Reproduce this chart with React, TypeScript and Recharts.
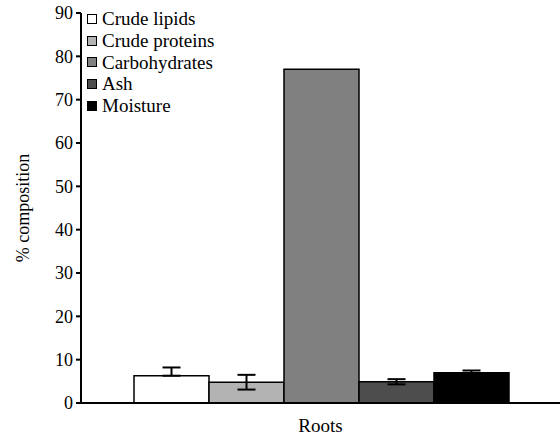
import { BarChart, Bar, XAxis, YAxis, ErrorBar } from 'recharts';

const categories = ['Roots'];
const seriesNames = ['Crude lipids', 'Crude proteins', 'Carbohydrates', 'Ash', 'Moisture'];
const seriesColors = ['#ffffff', '#b3b3b3', '#808080', '#4d4d4d', '#000000'];
const values = [6.3, 4.8, 77, 4.9, 7.0];
// [down, up] error lengths
const errorsLow = [0, 1.7, 0, 0.6, 0.5];
const errorsHigh = [1.9, 1.7, 0, 0.6, 0.5];
const yTicks = [0, 10, 20, 30, 40, 50, 60, 70, 80, 90];

const data = categories.map((c) => {
  const row: any = { category: c };
  values.forEach((v, i) => {
    row['s' + i] = v;
    row['e' + i] = [errorsLow[i], errorsHigh[i]];
  });
  return row;
});

const FONT = '"Liberation Serif", "Times New Roman", serif';

const LegendBox = () => (
  <div
    style={{
      position: 'absolute',
      left: 87,
      top: 8,
      fontFamily: FONT,
      fontSize: 19,
      color: '#000',
      lineHeight: '21.8px',
    }}
  >
    {seriesNames.map((name, i) => (
      <div key={name} style={{ display: 'flex', alignItems: 'center' }}>
        <span
          style={{
            display: 'inline-block',
            width: 8,
            height: 8,
            background: seriesColors[i],
            border: '1.5px solid #000',
            marginRight: 5,
          }}
        />
        {name}
      </div>
    ))}
  </div>
);

export default function App() {
  return (
    <div
      style={{
        position: 'absolute',
        left: 0,
        top: 0,
        width: 560,
        height: 436,
        background: '#fff',
        fontFamily: FONT,
      }}
    >
      <BarChart
        width={560}
        height={436}
        data={data}
        margin={{ top: 13, right: 0, bottom: 0, left: 0 }}
        barCategoryGap={53}
        barGap={0}
        style={{ fontFamily: FONT }}
      >
        <XAxis
          dataKey="category"
          height={33}
          tickLine={false}
          tickSize={0}
          tickMargin={16}
          axisLine={{ stroke: '#000', strokeWidth: 2 }}
          tick={{ fill: '#000', fontSize: 19, style: { fontFamily: FONT } }}
        />
        <YAxis
          width={81}
          domain={[0, 90]}
          ticks={yTicks}
          interval={0}
          tickSize={5}
          tickMargin={3}
          axisLine={{ stroke: '#000', strokeWidth: 2 }}
          tickLine={{ stroke: '#000', strokeWidth: 2 }}
          tick={{ fill: '#000', fontSize: 18, style: { fontFamily: FONT } }}
          label={{
            value: '% composition',
            angle: -90,
            position: 'insideLeft',
            offset: 23,
            style: { textAnchor: 'middle', fill: '#000', fontSize: 18, fontFamily: FONT },
          }}
        />
        {seriesNames.map((name, i) => (
          <Bar
            key={name}
            dataKey={'s' + i}
            name={name}
            fill={seriesColors[i]}
            stroke="#000"
            strokeWidth={1.5}
            isAnimationActive={false}
          >
            {errorsHigh[i] > 0 && (
              <ErrorBar dataKey={'e' + i} width={9} stroke="#000" strokeWidth={2} />
            )}
          </Bar>
        ))}
      </BarChart>
      <LegendBox />
    </div>
  );
}
